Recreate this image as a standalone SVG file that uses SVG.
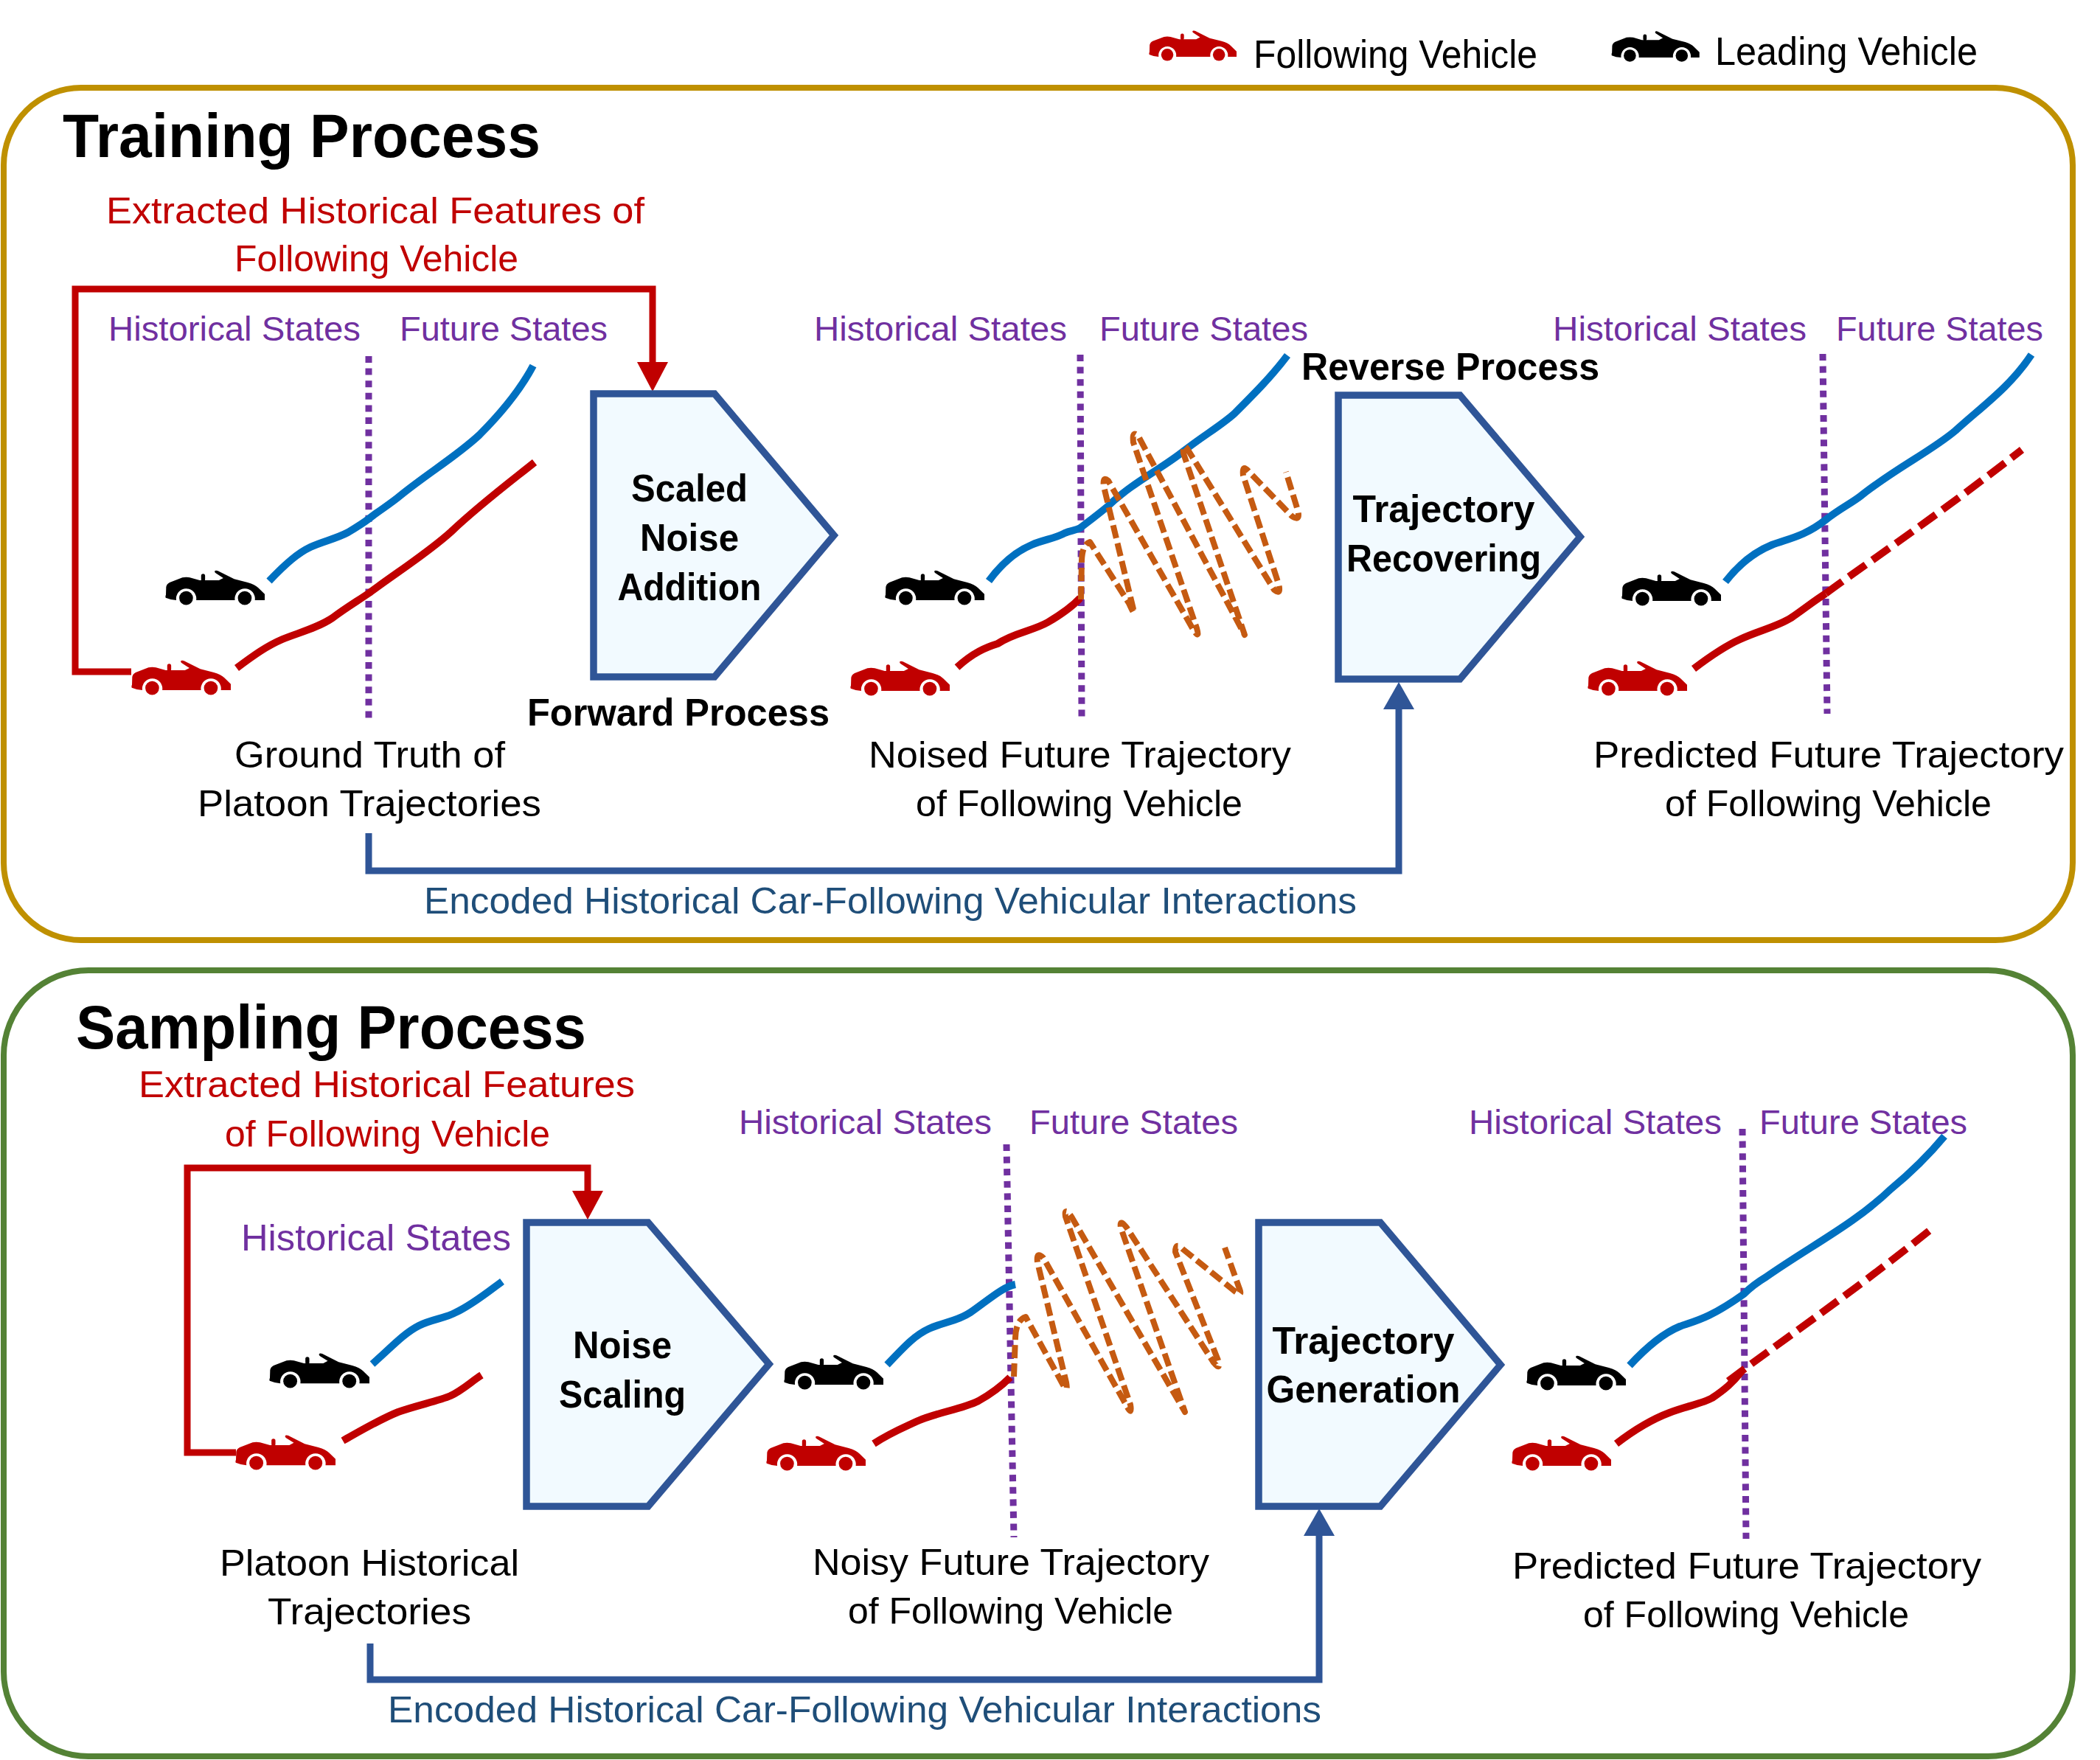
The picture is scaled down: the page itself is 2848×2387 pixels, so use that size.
<svg xmlns="http://www.w3.org/2000/svg" width="2848" height="2387" viewBox="0 0 2848 2387">
<style>
text{font-family:"Liberation Sans",Arial,sans-serif;}
.t{font-size:50px;fill:#000}
.p{font-size:46px;fill:#7030a0}
.r{font-size:50px;fill:#c00000}
.e{font-size:50px;fill:#1f4e79}
.b{font-size:52px;font-weight:bold;fill:#000}
.h{font-size:84px;font-weight:bold;fill:#000}
.box{fill:#f2faff;stroke:#2f5597;stroke-width:9.5;stroke-linejoin:miter}
.frame{fill:none;stroke-width:8}
.blue{fill:none;stroke:#0070c0;stroke-width:10}
.red{fill:none;stroke:#c00000;stroke-width:10}
.redd{fill:none;stroke:#c00000;stroke-width:10;stroke-dasharray:28 11}
.dot{fill:none;stroke:#7030a0;stroke-width:9;stroke-dasharray:9 7.6}
.noise{fill:none;stroke:#c55a11;stroke-width:8;stroke-dasharray:18 7;stroke-linejoin:round}
.cr{fill:none;stroke:#c00000;stroke-width:9}
.cb{fill:none;stroke:#2f5597;stroke-width:9}
</style>
<defs>
<symbol id="car" viewBox="0 0 404 142">
<path d="M2,112 Q0,106 3,100 L4,68 Q6,56 18,50 L70,30 Q85,27 100,30 L140,41 L218,41 L236,32 L205,12 Q198,6 203,2 Q208,0 214,3 L280,36 L335,50 Q365,58 378,72 L404,97 L404,122 L364,122 A41,41 0 1 0 283,122 L126,122 A41,41 0 1 0 45,122 Q20,120 2,112 Z"/>
<rect x="146" y="15" width="16" height="30" rx="8"/>
<circle cx="85" cy="113" r="28"/>
<circle cx="323" cy="113" r="28"/>
</symbol>
</defs>
<g id="legend">
<use href="#car" x="1558" y="41" width="119" height="42" fill="#c00000"/>
<text class="t" x="1700" y="92" textLength="385" lengthAdjust="spacingAndGlyphs" style="font-size:53px">Following Vehicle</text>
<use href="#car" x="2185" y="42" width="120" height="42" fill="#000"/>
<text class="t" x="2326" y="88" textLength="356" lengthAdjust="spacingAndGlyphs" style="font-size:53px">Leading Vehicle</text>
</g>
<g id="training-frame">
<rect class="frame" x="5" y="119" width="2806" height="1156" rx="105" stroke="#bf9000"/>
<text class="h" x="85" y="213" textLength="648" lengthAdjust="spacingAndGlyphs">Training Process</text>
</g>
<g id="sampling-frame">
<rect class="frame" x="5" y="1316" width="2806" height="1066" rx="115" stroke="#548235"/>
<text class="h" x="103" y="1422" textLength="692" lengthAdjust="spacingAndGlyphs">Sampling Process</text>
</g>
<g id="connectors">
<path class="cr" d="M178,911 H102 V392 H885 V492"/>
<polygon points="864,491 906,491 885,531" fill="#c00000"/>
<path class="cb" d="M500,1130 V1181 H1897 V962"/>
<polygon points="1876,962 1918,962 1897,925" fill="#2f5597"/>
<path class="cr" d="M320,1970 H254 V1584 H797 V1616"/>
<polygon points="776,1615 818,1615 797,1654" fill="#c00000"/>
<path class="cb" d="M502,2229 V2278 H1789 V2083"/>
<polygon points="1768,2083 1810,2083 1789,2046" fill="#2f5597"/>
</g>
<g id="node-noise-addition">
<polygon class="box" points="805,534 969,534 1131,726 969,918 805,918"/>
<text class="b" x="935" y="680" text-anchor="middle" textLength="158" lengthAdjust="spacingAndGlyphs">Scaled</text>
<text class="b" x="935" y="747" text-anchor="middle" textLength="134" lengthAdjust="spacingAndGlyphs">Noise</text>
<text class="b" x="935" y="814" text-anchor="middle" textLength="195" lengthAdjust="spacingAndGlyphs">Addition</text>
</g>
<g id="node-trajectory-recovering">
<polygon class="box" points="1815,536 1980,536 2143,728 1980,921 1815,921"/>
<text class="b" x="1958" y="708" text-anchor="middle" textLength="247" lengthAdjust="spacingAndGlyphs">Trajectory</text>
<text class="b" x="1958" y="775" text-anchor="middle" textLength="264" lengthAdjust="spacingAndGlyphs">Recovering</text>
</g>
<g id="node-noise-scaling">
<polygon class="box" points="714,1658 879,1658 1043,1850 879,2043 714,2043"/>
<text class="b" x="844" y="1842" text-anchor="middle" textLength="134" lengthAdjust="spacingAndGlyphs">Noise</text>
<text class="b" x="844" y="1909" text-anchor="middle" textLength="172" lengthAdjust="spacingAndGlyphs">Scaling</text>
</g>
<g id="node-trajectory-generation">
<polygon class="box" points="1707,1658 1872,1658 2035,1851 1872,2043 1707,2043"/>
<text class="b" x="1849" y="1836" text-anchor="middle" textLength="247" lengthAdjust="spacingAndGlyphs">Trajectory</text>
<text class="b" x="1849" y="1902" text-anchor="middle" textLength="263" lengthAdjust="spacingAndGlyphs">Generation</text>
</g>
<g id="training-labels">
<text class="r" x="144" y="303" textLength="730" lengthAdjust="spacingAndGlyphs">Extracted Historical Features of</text>
<text class="r" x="318" y="368" textLength="385" lengthAdjust="spacingAndGlyphs">Following Vehicle</text>
<text class="b" x="715" y="984" textLength="410" lengthAdjust="spacingAndGlyphs">Forward Process</text>
<text class="b" x="1765" y="515" textLength="404" lengthAdjust="spacingAndGlyphs">Reverse Process</text>
<text class="p" x="147" y="462" textLength="342" lengthAdjust="spacingAndGlyphs">Historical States</text>
<text class="p" x="542" y="462" textLength="282" lengthAdjust="spacingAndGlyphs">Future States</text>
<text class="p" x="1104" y="462" textLength="343" lengthAdjust="spacingAndGlyphs">Historical States</text>
<text class="p" x="1491" y="462" textLength="283" lengthAdjust="spacingAndGlyphs">Future States</text>
<text class="p" x="2106" y="462" textLength="344" lengthAdjust="spacingAndGlyphs">Historical States</text>
<text class="p" x="2490" y="462" textLength="281" lengthAdjust="spacingAndGlyphs">Future States</text>
<text class="t" x="318" y="1041" textLength="367" lengthAdjust="spacingAndGlyphs">Ground Truth of</text>
<text class="t" x="268" y="1107" textLength="466" lengthAdjust="spacingAndGlyphs">Platoon Trajectories</text>
<text class="t" x="1178" y="1041" textLength="573" lengthAdjust="spacingAndGlyphs">Noised Future Trajectory</text>
<text class="t" x="1242" y="1107" textLength="443" lengthAdjust="spacingAndGlyphs">of Following Vehicle</text>
<text class="t" x="2161" y="1041" textLength="638" lengthAdjust="spacingAndGlyphs">Predicted Future Trajectory</text>
<text class="t" x="2258" y="1107" textLength="443" lengthAdjust="spacingAndGlyphs">of Following Vehicle</text>
<text class="e" x="575" y="1239" textLength="1265" lengthAdjust="spacingAndGlyphs">Encoded Historical Car-Following Vehicular Interactions</text>
</g>
<g id="sampling-labels">
<text class="r" x="188" y="1488" textLength="673" lengthAdjust="spacingAndGlyphs">Extracted Historical Features</text>
<text class="r" x="305" y="1555" textLength="441" lengthAdjust="spacingAndGlyphs">of Following Vehicle</text>
<text class="p" x="327" y="1696" textLength="366" lengthAdjust="spacingAndGlyphs" style="font-size:50px">Historical States</text>
<text class="p" x="1002" y="1538" textLength="343" lengthAdjust="spacingAndGlyphs">Historical States</text>
<text class="p" x="1396" y="1538" textLength="283" lengthAdjust="spacingAndGlyphs">Future States</text>
<text class="p" x="1992" y="1538" textLength="343" lengthAdjust="spacingAndGlyphs">Historical States</text>
<text class="p" x="2386" y="1538" textLength="282" lengthAdjust="spacingAndGlyphs">Future States</text>
<text class="t" x="298" y="2137" textLength="406" lengthAdjust="spacingAndGlyphs">Platoon Historical</text>
<text class="t" x="363" y="2203" textLength="276" lengthAdjust="spacingAndGlyphs">Trajectories</text>
<text class="t" x="1102" y="2136" textLength="538" lengthAdjust="spacingAndGlyphs">Noisy Future Trajectory</text>
<text class="t" x="1150" y="2202" textLength="441" lengthAdjust="spacingAndGlyphs">of Following Vehicle</text>
<text class="t" x="2051" y="2141" textLength="636" lengthAdjust="spacingAndGlyphs">Predicted Future Trajectory</text>
<text class="t" x="2147" y="2207" textLength="442" lengthAdjust="spacingAndGlyphs">of Following Vehicle</text>
<text class="e" x="526" y="2336" textLength="1266" lengthAdjust="spacingAndGlyphs">Encoded Historical Car-Following Vehicular Interactions</text>
</g>
<g id="training-trajectories">
<path class="dot" d="M500,483 V974"/>
<path class="blue" d="M365,788 C388,764 404,750 421,742 C438,734 455,731 472,722 C482,716 492,710 501,703 C515,692 530,683 543,672 C580,642 620,618 650,590 C680,560 705,530 723,496"/>
<path class="red" d="M321,906 C345,888 362,876 383,867 C405,858 430,852 451,838 C468,825 485,815 501,804 C540,775 580,750 612,721 C650,685 690,655 725,627"/>
<use href="#car" x="224" y="773" width="135" height="48" fill="#000"/>
<use href="#car" x="178" y="895" width="135" height="48" fill="#c00000"/>
<path class="dot" d="M1465,481 L1467,972"/>
<path class="blue" d="M1341,788 C1360,762 1380,747 1399,739 C1415,732 1432,730 1444,723 C1452,719 1458,720 1465,716 C1478,706 1490,697 1502,687 C1535,655 1575,636 1605,612 C1630,592 1655,578 1674,561 C1700,535 1725,510 1746,482"/>
<path class="red" d="M1298,905 C1320,885 1337,878 1353,873 C1375,858 1400,856 1421,844 C1438,834 1452,825 1465,811"/>
<path class="noise" d="M1466,813 L1467,760 Q1468,738 1478,735 L1531,818 Q1541,840 1537,826 L1497,660 Q1495,645 1503,652 L1616,850 Q1628,870 1623,852 L1537,600 Q1535,582 1544,592 L1688,861 L1605,615 Q1603,598 1611,610 L1728,800 Q1738,808 1734,792 L1686,645 Q1684,628 1694,640 L1752,700 Q1764,708 1760,692 L1744,640"/>
<use href="#car" x="1200" y="773" width="135" height="48" fill="#000"/>
<use href="#car" x="1153" y="896" width="135" height="48" fill="#c00000"/>
<path class="dot" d="M2472,480 L2478,968"/>
<path class="blue" d="M2340,789 C2361,762 2381,748 2403,739 C2423,731 2447,728 2476,705 C2495,690 2510,683 2523,673 C2569,636 2619,612 2652,584 C2687,552 2726,525 2755,481"/>
<path class="red" d="M2297,907 C2322,888 2340,876 2360,867 C2383,856 2410,850 2429,838 C2448,825 2460,815 2476,805"/>
<path class="redd" d="M2476,805 C2530,765 2620,705 2742,610"/>
<use href="#car" x="2199" y="774" width="135" height="48" fill="#000"/>
<use href="#car" x="2153" y="896" width="135" height="48" fill="#c00000"/>
</g>
<g id="sampling-trajectories">
<path class="blue" d="M505,1850 C530,1828 548,1808 568,1798 C586,1789 604,1788 618,1780 C640,1770 662,1752 681,1738"/>
<path class="red" d="M465,1954 C490,1940 515,1925 540,1915 C565,1906 595,1900 611,1893 C628,1885 640,1873 653,1865"/>
<use href="#car" x="365" y="1835" width="136" height="48" fill="#000"/>
<use href="#car" x="319" y="1946" width="136" height="48" fill="#c00000"/>
<path class="dot" d="M1365,1552 L1375,2085"/>
<path class="blue" d="M1203,1851 C1225,1828 1240,1811 1260,1802 C1280,1793 1298,1792 1316,1780 C1338,1765 1360,1745 1377,1742"/>
<path class="red" d="M1185,1958 C1208,1943 1226,1936 1245,1927 C1270,1916 1305,1911 1327,1900 C1345,1890 1358,1880 1370,1868"/>
<path class="noise" d="M1375,1867 L1377,1814 Q1378,1790 1391,1786 L1440,1875 Q1449,1892 1446,1875 L1407,1712 Q1405,1696 1415,1706 L1527,1905 Q1536,1922 1533,1905 L1445,1650 Q1443,1636 1453,1650 L1607,1915 L1520,1665 Q1518,1652 1528,1665 L1646,1848 Q1656,1860 1652,1845 L1594,1698 Q1594,1684 1604,1694 L1673,1750 Q1686,1760 1681,1748 L1661,1692"/>
<use href="#car" x="1063" y="1837" width="135" height="48" fill="#000"/>
<use href="#car" x="1039" y="1947" width="135" height="48" fill="#c00000"/>
<path class="dot" d="M2363,1531 L2368,2087"/>
<path class="blue" d="M2210,1852 C2235,1825 2256,1808 2278,1799 C2296,1792 2316,1790 2365,1755 C2375,1745 2385,1738 2395,1732 C2455,1690 2515,1660 2564,1613 C2592,1590 2617,1565 2637,1541"/>
<path class="red" d="M2192,1958 C2218,1938 2240,1925 2264,1916 C2288,1907 2310,1903 2322,1896 C2340,1884 2350,1875 2362,1860"/>
<path class="redd" d="M2344,1873 C2400,1830 2510,1755 2619,1667"/>
<use href="#car" x="2070" y="1838" width="135" height="48" fill="#000"/>
<use href="#car" x="2050" y="1947" width="135" height="48" fill="#c00000"/>
</g>
</svg>
